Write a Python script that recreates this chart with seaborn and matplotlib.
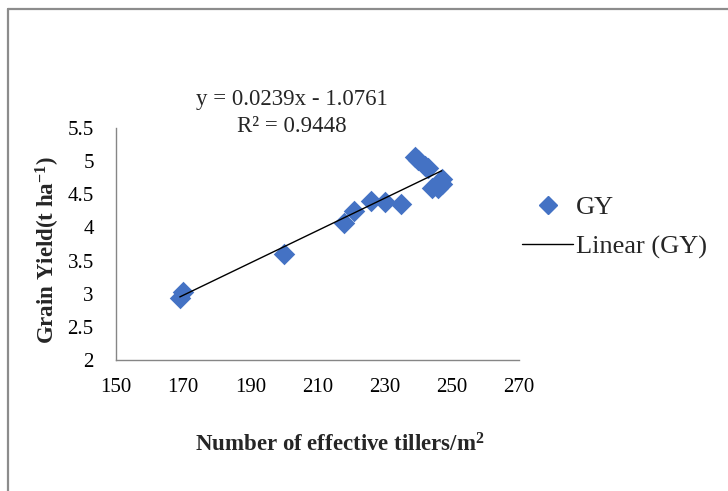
import matplotlib
matplotlib.use("Agg")
import matplotlib.pyplot as plt
import seaborn as sns
import pandas as pd
from matplotlib.lines import Line2D

tillers = [169, 170, 200, 218, 221, 226, 230, 235, 239, 240, 242, 243, 244, 246, 247, 247]
grain_yield = [2.93, 3.03, 3.60, 4.07, 4.25, 4.40, 4.38, 4.36, 5.07, 5.02, 4.92, 4.90, 4.60, 4.60, 4.65, 4.73]
x_ticks = [150, 170, 190, 210, 230, 250, 270]
y_ticks = [2, 2.5, 3, 3.5, 4, 4.5, 5, 5.5]
y_tick_labels = ["2", "2.5", "3", "3.5", "4", "4.5", "5", "5.5"]
equation = "y = 0.0239x - 1.0761"
r2_text = "R² = 0.9448"

df = pd.DataFrame({"tillers": tillers, "gy": grain_yield})

sns.set_style("white")
plt.rcParams["font.family"] = ["Liberation Serif", "DejaVu Serif"]
plt.rcParams["mathtext.fontset"] = "custom"
plt.rcParams["mathtext.rm"] = "Liberation Serif"
plt.rcParams["mathtext.it"] = "Liberation Serif:italic"
plt.rcParams["mathtext.bf"] = "Liberation Serif:bold"

fig = plt.figure(figsize=(7.28, 4.91), dpi=100)
ax = fig.add_axes([0.1593, 0.2668, 0.5536, 0.4725])

blue = "#4472C4"
sns.scatterplot(data=df, x="tillers", y="gy", marker="D", s=120, color=blue,
                edgecolor=blue, linewidth=0, ax=ax, zorder=2)
sns.regplot(data=df, x="tillers", y="gy", scatter=False, ci=None, truncate=True,
            line_kws=dict(color="black", lw=1.0), ax=ax)

ax.set_xlim(150, 270)
ax.set_ylim(2, 5.5)
ax.set_xticks(x_ticks)
ax.set_yticks(y_ticks)
ax.set_yticklabels(y_tick_labels)
ax.tick_params(axis="both", labelsize=15, colors="black", length=6, width=1,
               direction="out", color="#868686")
ax.tick_params(axis="x", pad=8, length=5)
ax.tick_params(axis="y", pad=10)
for side in ["top", "right"]:
    ax.spines[side].set_visible(False)
for side in ["left", "bottom"]:
    ax.spines[side].set_color("#868686")
    ax.spines[side].set_linewidth(1.0)

ax.set_xlabel("")
ax.set_ylabel("")
fig.text(0.467, 0.094, "Number of effective tillers/m$^{\\mathbf{2}}$", ha="center", va="center",
         fontsize=16.5, fontweight="bold")
fig.text(0.066, 0.491, "Grain Yield(t ha$^{\\mathbf{-1}}$)", ha="center", va="center",
         rotation=90, fontsize=16.5, fontweight="bold")

fig.text(0.401, 0.797, equation, ha="center", va="center", fontsize=16.5)
fig.text(0.401, 0.742, r2_text, ha="center", va="center", fontsize=16.5)

handles = [Line2D([], [], marker="D", color=blue, linestyle="none", markersize=9),
           Line2D([], [], color="black", lw=1.0)]
leg = fig.legend(handles, ["GY", "Linear (GY)"], loc="center left",
                 bbox_to_anchor=(0.717, 0.537), frameon=False, fontsize=19,
                 handlelength=1.95, handletextpad=0.1, labelspacing=0.6,
                 borderpad=0, borderaxespad=0)

fig.add_artist(Line2D([0.011, 0.011], [0, 0.982], transform=fig.transFigure,
                      color="#8c8c8c", lw=1.6))
fig.add_artist(Line2D([0.011, 1.0], [0.982, 0.982], transform=fig.transFigure,
                      color="#8c8c8c", lw=1.6))

fig.savefig("out.png", dpi=100)
